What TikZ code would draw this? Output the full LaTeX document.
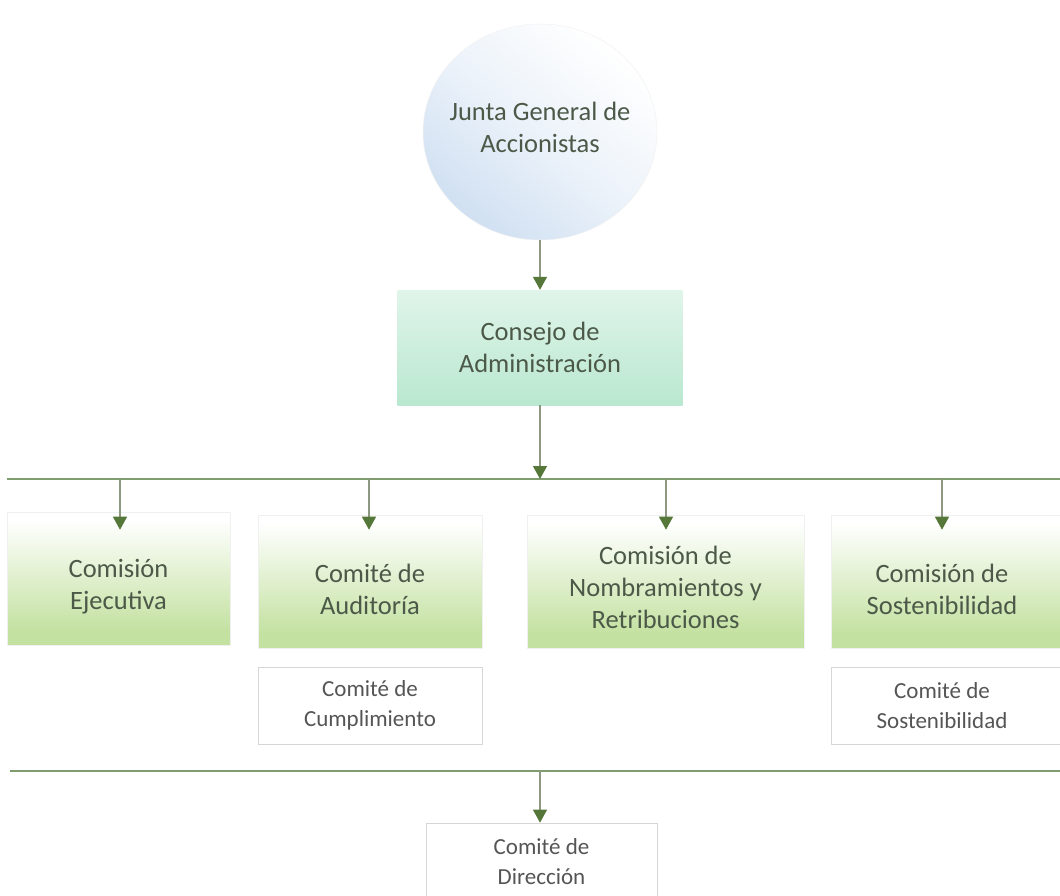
\documentclass[tikz,border=0pt]{standalone}
\usepackage{fontspec}
\setmainfont{Carlito}
\usetikzlibrary{arrows.meta,calc,shapes.geometric}
\definecolor{txt}{HTML}{4C5948}
\definecolor{txtg}{HTML}{555555}
\definecolor{linec}{HTML}{8C9882}
\definecolor{headc}{HTML}{55783A}
\definecolor{greenb}{HTML}{C3E1A0}
\definecolor{mint}{HTML}{B2E5CB}
\definecolor{bluec}{HTML}{D0E0F2}
\definecolor{hline}{HTML}{809D70}
\pgfdeclareverticalshading{gbox}{100bp}{color(0bp)=(greenb); color(30bp)=(greenb); color(72bp)=(white); color(100bp)=(white)}
\pgfdeclareverticalshading{mbox}{100bp}{color(0bp)=(mint); color(15bp)=(mint); color(100bp)=(white!85!mint)}
\tikzset{
  lbl/.style={font=\fontsize{26.5}{32}\selectfont, text=txt, align=center},
  slbl/.style={font=\fontsize{23}{30}\selectfont, text=txtg, align=center},
  greenbox/.style={shading=gbox, draw=black!6, line width=0.6pt, inner sep=0pt},
  whitebox/.style={fill=white, draw=black!16, line width=0.7pt, inner sep=0pt},
  conn/.style={draw=linec, line width=1.3pt, -{Triangle[width=14pt,length=13pt,color=headc]}},
  hl/.style={draw=hline, line width=1.4pt}
}
\begin{document}
\begin{tikzpicture}[x=1pt,y=-1pt]
\useasboundingbox (0,0) rectangle (1060,896);
\clip (0,0) rectangle (1060,896);
\fill[white] (0,0) rectangle (1060,896);

% top circle
\node[ellipse, shade, top color=white, bottom color=bluec, middle color=white!60!bluec, shading angle=-40,
      draw=black!5, line width=0.5pt,
      minimum width=234pt, minimum height=216pt, inner sep=0pt,
      label={[lbl, yshift=5pt]center:{Junta General de\\Accionistas}}] (jg) at (540,132) {};

% Consejo
\node[shading=mbox, minimum width=285pt, minimum height=115pt, inner sep=0pt, lbl] (ca) at (540,347.5)
      {Consejo de\\Administración};

% horizontal lines
\coordinate (h1a) at (7,479);
\coordinate (h1b) at (1060,479);
\coordinate (h2a) at (10,771);
\coordinate (h2b) at (1060,771);
\draw[hl] (h1a) -- (h1b);
\draw[hl] (h2a) -- (h2b);

% green boxes
\node[greenbox, minimum width=223pt, minimum height=133pt,
      label={[lbl, yshift=-8pt]center:{Comisión\\Ejecutiva}}] (ce) at (118.5,578.5) {};
\node[greenbox, minimum width=224pt, minimum height=133pt,
      label={[lbl, yshift=-8pt]center:{Comité de\\Auditoría}}] (au) at (370,581.5) {};
\node[greenbox, minimum width=277pt, minimum height=133pt,
      label={[lbl, yshift=-6pt]center:{Comisión de\\Nombramientos y\\Retribuciones}}] (nr) at (665.5,581.5) {};
\node[greenbox, minimum width=240pt, minimum height=133pt,
      label={[lbl, yshift=-8pt, xshift=-9pt]center:{Comisión de\\Sostenibilidad}}] (cs) at (951,581.5) {};

% white boxes
\node[whitebox, minimum width=224pt, minimum height=77pt, slbl] (cu) at (370,705.5)
      {Comité de\\Cumplimiento};
\node[whitebox, minimum width=240pt, minimum height=77pt,
      label={[slbl, xshift=-9pt]center:{Comité de\\Sostenibilidad}}] (so) at (951,705.5) {};
\node[whitebox, minimum width=231pt, minimum height=78pt, slbl] (di) at (541.5,862)
      {Comité de\\Dirección};

% connectors
\coordinate (p0) at (540,479);
\coordinate (p1) at (120,479);
\coordinate (p2) at (369,479);
\coordinate (p3) at (666,479);
\coordinate (p4) at (942,479);
\coordinate (p5) at (540,771);
\draw[conn] (jg.south) -- (ca.north);
\draw[conn] (ca.south) -- (p0);
\draw[conn] (p1) -- ($(p1 |- ce.north)+(0,18)$);
\draw[conn] (p2) -- ($(p2 |- au.north)+(0,15)$);
\draw[conn] (p3) -- ($(p3 |- nr.north)+(0,15)$);
\draw[conn] (p4) -- ($(p4 |- cs.north)+(0,15)$);
\draw[conn] (p5) -- (p5 |- di.north);
\end{tikzpicture}
\end{document}
